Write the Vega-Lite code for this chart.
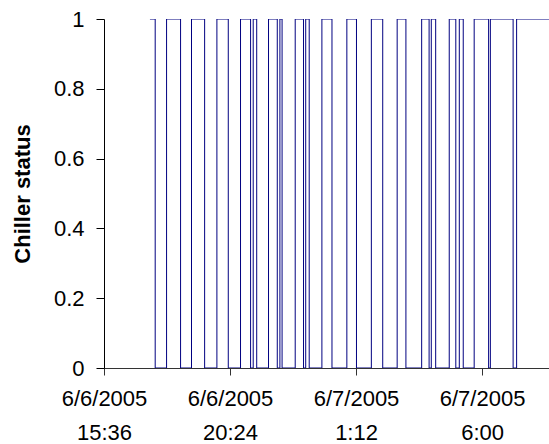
{
  "$schema": "https://vega.github.io/schema/vega-lite/v6.json",
  "width": 445,
  "height": 349,
  "autosize": {"type": "none"},
  "padding": {"left": 104, "top": 19, "right": 0, "bottom": 76},
  "background": "white",
  "config": {"view": {"stroke": null}, "font": "Liberation Sans"},
  "data": {
    "values": [
      {"t": "2005-06-06T17:21:00", "s": 1},
      {"t": "2005-06-06T17:33:00", "s": 0},
      {"t": "2005-06-06T17:59:00", "s": 1},
      {"t": "2005-06-06T18:31:00", "s": 0},
      {"t": "2005-06-06T18:56:00", "s": 1},
      {"t": "2005-06-06T19:26:00", "s": 0},
      {"t": "2005-06-06T19:54:00", "s": 1},
      {"t": "2005-06-06T20:20:00", "s": 0},
      {"t": "2005-06-06T20:48:00", "s": 1},
      {"t": "2005-06-06T21:11:00", "s": 0},
      {"t": "2005-06-06T21:17:00", "s": 1},
      {"t": "2005-06-06T21:25:00", "s": 0},
      {"t": "2005-06-06T21:52:00", "s": 1},
      {"t": "2005-06-06T22:12:00", "s": 0},
      {"t": "2005-06-06T22:18:00", "s": 1},
      {"t": "2005-06-06T22:23:00", "s": 0},
      {"t": "2005-06-06T22:53:00", "s": 1},
      {"t": "2005-06-06T23:12:00", "s": 0},
      {"t": "2005-06-06T23:17:00", "s": 1},
      {"t": "2005-06-06T23:25:00", "s": 0},
      {"t": "2005-06-06T23:54:00", "s": 1},
      {"t": "2005-06-07T00:17:00", "s": 0},
      {"t": "2005-06-07T00:51:00", "s": 1},
      {"t": "2005-06-07T01:13:00", "s": 0},
      {"t": "2005-06-07T01:47:00", "s": 1},
      {"t": "2005-06-07T02:13:00", "s": 0},
      {"t": "2005-06-07T02:46:00", "s": 1},
      {"t": "2005-06-07T03:06:00", "s": 0},
      {"t": "2005-06-07T03:42:00", "s": 1},
      {"t": "2005-06-07T03:59:00", "s": 0},
      {"t": "2005-06-07T04:04:00", "s": 1},
      {"t": "2005-06-07T04:14:00", "s": 0},
      {"t": "2005-06-07T04:45:00", "s": 1},
      {"t": "2005-06-07T05:00:00", "s": 0},
      {"t": "2005-06-07T05:08:00", "s": 1},
      {"t": "2005-06-07T05:17:00", "s": 0},
      {"t": "2005-06-07T05:42:00", "s": 1},
      {"t": "2005-06-07T06:15:00", "s": 0},
      {"t": "2005-06-07T06:19:00", "s": 1},
      {"t": "2005-06-07T07:11:00", "s": 0},
      {"t": "2005-06-07T07:19:00", "s": 1},
      {"t": "2005-06-07T08:33:00", "s": 1}
    ]
  },
  "mark": {"type": "line", "interpolate": "step-after", "color": "#000080", "strokeWidth": 1, "clip": true},
  "encoding": {
    "x": {
      "field": "t",
      "type": "temporal",
      "scale": {
        "domain": [
          {"year": 2005, "month": 6, "date": 6, "hours": 15, "minutes": 36},
          {"year": 2005, "month": 6, "date": 7, "hours": 8, "minutes": 33}
        ],
        "nice": false
      },
      "axis": {
        "title": null,
        "grid": false,
        "values": [
          {"year": 2005, "month": 6, "date": 6, "hours": 15, "minutes": 36},
          {"year": 2005, "month": 6, "date": 6, "hours": 20, "minutes": 24},
          {"year": 2005, "month": 6, "date": 7, "hours": 1, "minutes": 12},
          {"year": 2005, "month": 6, "date": 7, "hours": 6, "minutes": 0}
        ],
        "labelExpr": "[timeFormat(datum.value, '%-m/%-d/%Y'), timeFormat(datum.value, '%-H:%M')]",
        "labelFontSize": 22,
        "labelColor": "black",
        "labelLineHeight": 34,
        "labelPadding": 13,
        "labelFlush": false,
        "labelOverlap": false,
        "domainColor": "#333333",
        "tickColor": "#333333",
        "tickSize": 7
      }
    },
    "y": {
      "field": "s",
      "type": "quantitative",
      "scale": {"domain": [0, 1], "nice": false},
      "axis": {
        "title": "Chiller status",
        "titleFontSize": 22,
        "titleFontWeight": "bold",
        "titleColor": "black",
        "titlePadding": 19,
        "grid": false,
        "values": [0, 0.2, 0.4, 0.6, 0.8, 1],
        "format": "~g",
        "labelFontSize": 22,
        "labelColor": "black",
        "labelPadding": 12,
        "labelFlush": false,
        "domainColor": "black",
        "tickColor": "black",
        "tickSize": 8
      }
    }
  }
}
